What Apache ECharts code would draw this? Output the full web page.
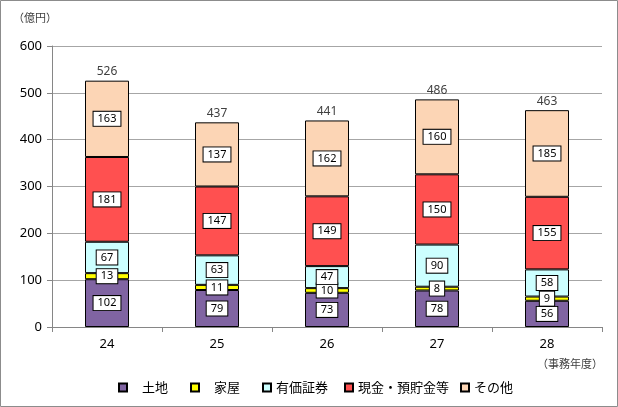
<!DOCTYPE html>
<html><head><meta charset="utf-8">
<script src="https://cdn.jsdelivr.net/npm/echarts@6/dist/echarts.min.js"></script>
<style>html,body{margin:0;padding:0;background:#fff}#c{width:618px;height:407px}</style>
</head><body><div id="c"></div>
<script>
const categories = ['24','25','26','27','28'];
const land = [102, 79, 73, 78, 56];
const house = [13, 11, 10, 8, 9];
const securities = [67, 63, 47, 90, 58];
const cash = [181, 147, 149, 150, 155];
const other = [163, 137, 162, 160, 185];
const yTicks = [0, 100, 200, 300, 400, 500, 600];
const names = ['土地', '家屋', '有価証券', '現金・預貯金等', 'その他'];
const colors = ['#8064A2', '#FFFF00', '#CCFFFF', '#FF5050', '#FCD5B5'];
const seriesData = [land, house, securities, cash, other];
const totals = categories.map((c, i) => seriesData.reduce((s, a) => s + a[i], 0));

const numFont = 'Noto Sans, Liberation Sans, sans-serif';
const jpFont = 'Noto Sans CJK JP, sans-serif';

const series = seriesData.map((d, k) => ({
  name: names[k], type: 'bar', stack: 'total', data: d, barWidth: 44,
  itemStyle: { color: colors[k], borderColor: '#000', borderWidth: 1 },
  label: {
    show: true, position: 'inside', color: '#000', fontSize: 11, fontFamily: numFont,
    backgroundColor: '#fff', borderColor: '#000', borderWidth: 1, padding: [2, 4, 1, 4]
  },
  labelLayout: { hideOverlap: false },
  z: 2
}));
series.push({
  name: 'total', type: 'bar', stack: 'total', data: totals.map(() => 0), barWidth: 44,
  itemStyle: { color: 'transparent', borderWidth: 0 },
  label: { show: true, position: 'top', distance: 3, color: '#404040', fontSize: 12, fontFamily: numFont,
    formatter: p => totals[p.dataIndex] },
  silent: true
});

const legendLefts = [113, 185, 257, 339, 455];
const legendPad = [[0,0,0,10],[0,0,0,10],[0,0,0,0],[0,0,0,0],[0,0,0,0]];
const legends = names.map((n, k) => ({
  data: [n], left: legendLefts[k], top: 376, itemWidth: 8, itemHeight: 8, itemGap: 0,
  icon: 'rect',
  textStyle: { fontSize: 13, fontFamily: jpFont, color: '#000', padding: legendPad[k] },
  selectedMode: false
}));

const chart = echarts.init(document.getElementById('c'), null, { renderer: 'canvas' });
chart.setOption({
  animation: false,
  backgroundColor: '#fff',
  grid: { left: 52, right: 16, top: 46, bottom: 80, containLabel: false },
  legend: legends,
  xAxis: {
    type: 'category', data: categories,
    axisLine: { lineStyle: { color: '#868686', width: 1 } },
    axisTick: { show: true, length: 5, lineStyle: { color: '#868686' } },
    axisLabel: { color: '#000', fontSize: 13, fontFamily: numFont, margin: 11 }
  },
  yAxis: {
    type: 'value', min: 0, max: 600, interval: 100,
    axisLine: { show: true, lineStyle: { color: '#868686', width: 1 } },
    axisTick: { show: true, length: 5, lineStyle: { color: '#868686' } },
    axisLabel: { color: '#000', fontSize: 13, fontFamily: numFont, margin: 10,
      formatter: v => yTicks.includes(v) ? String(v) : '' },
    splitLine: { lineStyle: { color: '#A6A6A6', width: 1 } }
  },
  graphic: [
    { type: 'rect', shape: { x: 0.5, y: 0.5, width: 617, height: 406 }, style: { fill: 'none', stroke: '#8C8C8C', lineWidth: 1 }, silent: true },
    { type: 'text', left: 13, top: 12, style: { text: '（億円）', fontSize: 11, fontFamily: jpFont, fill: '#404040' } },
    { type: 'text', left: 537, top: 358, style: { text: '（事務年度）', fontSize: 11, fontFamily: jpFont, fill: '#404040' } }
  ],
  series: series
});
</script></body></html>
